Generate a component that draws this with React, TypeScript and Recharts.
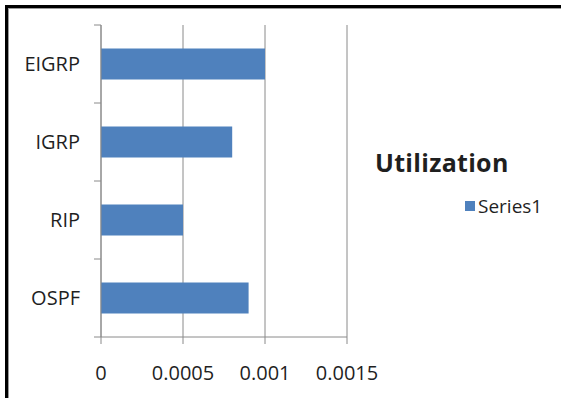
import { Bar, BarChart, CartesianGrid, Legend, XAxis, YAxis } from 'recharts';

const protocols = ['EIGRP', 'IGRP', 'RIP', 'OSPF'];
const utilization = [0.001, 0.0008, 0.0005, 0.0009];
const xTicks = [0, 0.0005, 0.001, 0.0015];

const data = protocols.map((name, i) => ({ name, Series1: utilization[i] }));

const FONT = '"Open Sans", "Liberation Sans", sans-serif';
const GRID = '#8a8a8a';
const BAR = '#4f81bd';
const TEXT = '#1f1f1f';

const Y_TICK_SIZE = 7;
const Y_TICK_MARGIN = 14;

// category label plus the boundary tick marks Excel draws between bands
function CategoryTick(props: any) {
  const { x, y, payload, index, visibleTicksCount } = props;
  const axisX = x + Y_TICK_SIZE + Y_TICK_MARGIN;
  const half = payload.offset ?? 0;
  const isLast = index === (visibleTicksCount ?? protocols.length) - 1;
  return (
    <g>
      <line x1={axisX - Y_TICK_SIZE} x2={axisX} y1={y - half} y2={y - half} stroke={GRID} />
      {isLast && (
        <line x1={axisX - Y_TICK_SIZE} x2={axisX} y1={y + half} y2={y + half} stroke={GRID} />
      )}
      <text x={x} y={y} dy="0.35em" textAnchor="end" fill={TEXT} fontSize={20} fontFamily={FONT}>
        {payload.value}
      </text>
    </g>
  );
}

function LegendBox({ payload }: any) {
  const item = payload?.[0];
  return (
    <div style={{ fontFamily: FONT, color: TEXT }}>
      <div style={{ fontSize: 25, fontWeight: 700, lineHeight: '30px', letterSpacing: 0.3 }}>Utilization</div>
      <div
        style={{
          display: 'flex',
          alignItems: 'center',
          marginTop: 16,
          marginLeft: 90,
          fontSize: 19,
          lineHeight: '26px',
        }}
      >
        <span style={{ width: 10, height: 10, background: item?.color ?? BAR, marginRight: 3 }} />
        <span>{item?.value ?? 'Series1'}</span>
      </div>
    </div>
  );
}

export default function App() {
  return (
    <div style={{ position: 'absolute', left: 0, top: 0, width: 561, height: 398, background: '#fff', overflow: 'hidden' }}>
      <div
        style={{
          position: 'absolute',
          left: 5,
          top: 5,
          width: 600,
          height: 440,
          borderTop: '3px solid #000',
          borderLeft: '3px solid #000',
        }}
      >
        <div style={{ width: '100%', height: '100%', borderTop: '1px solid #9a9a9a', borderLeft: '1px solid #9a9a9a' }} />
      </div>
      <div style={{ position: 'absolute', left: 0, top: 0 }}>
        <BarChart
          width={561}
          height={398}
          data={data}
          layout="vertical"
          margin={{ top: 25, right: 214, bottom: 11, left: 0 }}
          barCategoryGap="30%"
        >
          <CartesianGrid horizontal={false} stroke={GRID} />
          <XAxis
            type="number"
            domain={[0, 0.0015]}
            ticks={xTicks}
            height={50}
            stroke={GRID}
            tickSize={7}
            tickMargin={22}
            tick={{ fill: TEXT, fontSize: 20, fontFamily: FONT }}
          />
          <YAxis
            type="category"
            dataKey="name"
            width={101}
            stroke={GRID}
            tickLine={false}
            tickSize={Y_TICK_SIZE}
            tickMargin={Y_TICK_MARGIN}
            tick={<CategoryTick />}
          />
          <Legend
            align="center"
            verticalAlign="middle"
            content={<LegendBox />}
            wrapperStyle={{ left: 375, top: 147, width: 180 }}
          />
          <Bar dataKey="Series1" fill={BAR} isAnimationActive={false} />
        </BarChart>
      </div>
    </div>
  );
}
